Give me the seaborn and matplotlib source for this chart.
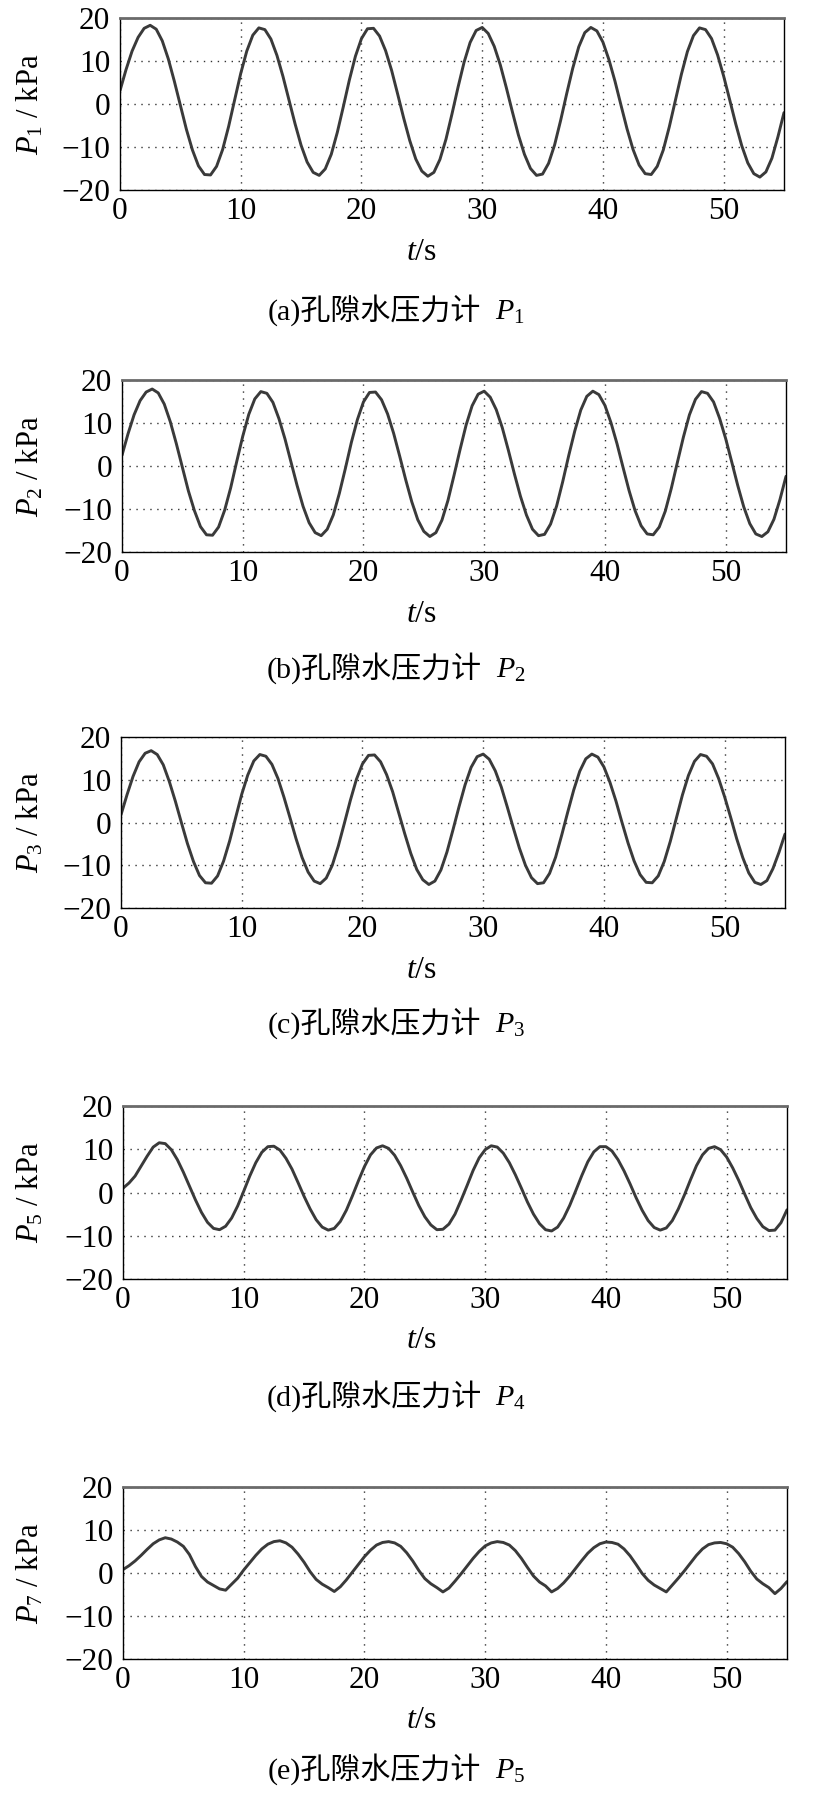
import numpy as np
import pandas as pd
import seaborn as sns
import matplotlib.pyplot as plt
from matplotlib.offsetbox import TextArea, HPacker, AnchoredOffsetbox

# sample instants (s), 0.5 s logger step
t = np.arange(0, 55.5, 0.5)

# pore pressure readings (kPa)
p1 = [3.1, 8.0, 12.3, 15.5, 17.6, 18.3,
      17.4, 14.7, 10.5, 5.3, -0.3, -5.9, -10.7, -14.4, -16.4,
      -16.5, -14.5, -10.6, -5.2, 1.0, 7.1, 12.3, 16.0, 17.7,
      17.3, 15.1, 11.3, 6.4, 0.9, -4.6, -9.6, -13.5, -15.9,
      -16.6, -15.1, -11.7, -6.6, -0.6, 5.6, 11.1, 15.2, 17.5,
      17.6, 15.8, 12.4, 7.8, 2.3, -3.3, -8.5, -12.8, -15.6, -16.8,
      -15.9, -12.9, -8.2, -2.3, 3.9, 9.7, 14.3, 17.1,
      17.8, 16.4, 13.4, 9.1, 3.8, -1.8, -7.2, -11.7, -15.0, -16.6,
      -16.3, -13.8, -9.5, -3.8, 2.4, 8.3, 13.3, 16.6, 17.8,
      17.0, 14.4, 10.3, 5.3, -0.3, -5.8, -10.6, -14.2, -16.2,
      -16.4, -14.5, -10.7, -5.3, 0.8, 6.9, 12.2, 15.9, 17.7,
      17.3, 15.2, 11.4, 6.5, 1.0, -4.6, -9.7, -13.7, -16.2,
      -17.0, -15.8, -12.6, -7.6, -2.0]

p2 = [2.5, 7.5, 11.9, 15.2, 17.2, 17.9,
      17.0, 14.4, 10.3, 5.2, -0.3, -5.8, -10.4, -14.1, -16.0,
      -16.1, -14.2, -10.3, -5.1, 1.0, 6.9, 12.0, 15.6, 17.3,
      16.9, 14.8, 11.0, 6.3, 0.9, -4.5, -9.4, -13.2, -15.5,
      -16.2, -14.7, -11.4, -6.4, -0.6, 5.5, 10.8, 14.9, 17.1,
      17.2, 15.4, 12.1, 7.6, 2.3, -3.2, -8.3, -12.5, -15.2, -16.4,
      -15.5, -12.6, -8.0, -2.2, 3.8, 9.5, 14.0, 16.7,
      17.4, 16.0, 13.1, 8.9, 3.7, -1.8, -7.0, -11.4, -14.7, -16.2,
      -15.9, -13.5, -9.3, -3.7, 2.4, 8.1, 13.0, 16.2, 17.4,
      16.6, 14.1, 10.1, 5.2, -0.3, -5.7, -10.4, -13.9, -15.8,
      -16.0, -14.2, -10.5, -5.2, 0.8, 6.7, 11.9, 15.5, 17.3,
      16.9, 14.9, 11.1, 6.4, 1.0, -4.5, -9.5, -13.4, -15.8,
      -16.4, -15.3, -12.4, -7.8, -2.4]

p3 = [1.8, 6.5, 10.8, 14.2, 16.2, 16.8,
      15.9, 13.5, 9.6, 5.0, 0.0, -4.9, -9.1, -12.4, -14.1,
      -14.2, -12.5, -9.0, -4.3, 1.2, 6.6, 11.1, 14.4, 15.9,
      15.5, 13.6, 10.3, 5.9, 1.1, -3.8, -8.2, -11.6, -13.7,
      -14.3, -13.0, -10.0, -5.5, -0.2, 5.2, 10.1, 13.7, 15.7,
      15.8, 14.2, 11.2, 7.2, 2.3, -2.6, -7.2, -11.0, -13.4, -14.5,
      -13.7, -11.1, -6.9, -1.7, 3.7, 8.8, 12.9, 15.4,
      16.0, 14.8, 12.1, 8.3, 3.6, -1.3, -6.0, -10.0, -12.9, -14.3,
      -14.1, -11.9, -8.1, -3.0, 2.4, 7.6, 12.0, 14.9, 16.0,
      15.3, 13.0, 9.4, 5.0, 0.0, -4.8, -9.0, -12.2, -14.0,
      -14.1, -12.5, -9.1, -4.4, 1.0, 6.4, 11.0, 14.3, 15.9,
      15.5, 13.7, 10.3, 6.0, 1.2, -3.8, -8.2, -11.8, -14.0,
      -14.5, -13.6, -10.8, -7.0, -2.7]

p5 = [1.0, 2.2, 3.8, 6.1, 8.4, 10.5, 11.5,
      11.3, 9.9, 7.6, 4.7, 1.5, -1.7, -4.6, -6.9, -8.3,
      -8.6, -7.8, -5.9, -3.1, 0.3, 3.8, 6.9, 9.3, 10.6,
      10.7, 9.8, 7.9, 5.4, 2.3, -0.9, -3.8, -6.3, -8.0, -8.7,
      -8.3, -6.7, -4.1, -0.8, 2.7, 6.0, 8.7, 10.3,
      10.8, 10.2, 8.6, 6.2, 3.3, 0.1, -3.0, -5.6, -7.5, -8.6,
      -8.5, -7.3, -5.0, -1.8, 1.6, 5.1, 8.0, 9.9, 10.8,
      10.5, 9.1, 6.9, 4.1, 1.0, -2.2, -5.0, -7.2, -8.6,
      -8.9, -8.0, -5.9, -3.0, 0.4, 3.9, 7.1, 9.4, 10.6,
      10.6, 9.6, 7.6, 5.0, 2.0, -1.2, -4.1, -6.5, -8.1, -8.7,
      -8.2, -6.5, -3.8, -0.6, 2.9, 6.2, 8.7, 10.2,
      10.6, 9.9, 8.2, 5.7, 2.8, -0.4, -3.5, -6.0, -7.9, -8.8,
      -8.7, -7.0, -4.0]

p7 = [0.8, 1.7, 2.8, 4.1, 5.5, 6.8, 7.7, 8.2,
      7.9, 7.2, 6.2, 4.3, 1.5, -0.8, -2.1, -2.9, -3.7,
      -4.0, -2.6, -1.2, 0.7, 2.4, 4.1, 5.6, 6.7, 7.3,
      7.5, 7.0, 6.0, 4.4, 2.5, 0.3, -1.5, -2.6, -3.4,
      -4.3, -3.2, -1.6, 0.2, 2.0, 3.8, 5.3, 6.5, 7.1,
      7.3, 7.0, 6.2, 4.7, 2.8, 0.6, -1.3, -2.5, -3.4, -4.4,
      -3.5, -1.9, -0.2, 1.6, 3.4, 5.0, 6.3, 7.0, 7.3,
      7.1, 6.5, 5.2, 3.4, 1.3, -0.7, -2.1, -3.0, -4.4,
      -3.6, -2.3, -0.7, 1.1, 2.9, 4.6, 5.9, 6.8, 7.2,
      7.1, 6.7, 5.6, 4.0, 2.0, -0.1, -1.7, -2.8, -3.6,
      -4.4, -2.8, -1.2, 0.5, 2.3, 4.1, 5.6, 6.6, 7.0,
      7.1, 6.8, 6.0, 4.5, 2.6, 0.4, -1.4, -2.5, -3.4,
      -4.8, -3.6, -2.0]

series = [p1, p2, p3, p5, p7]
letters = ['a', 'b', 'c', 'd', 'e']
gauge_no = ['1', '2', '3', '4', '5']     # gauge number in caption
sensor_no = ['1', '2', '3', '5', '7']    # sensor number on y axis

sns.set_theme(style='white')
plt.rcParams['font.family'] = ['Liberation Serif', 'Noto Sans CJK SC']
plt.rcParams['mathtext.fontset'] = 'custom'
plt.rcParams['mathtext.rm'] = 'Liberation Serif'
plt.rcParams['mathtext.it'] = 'Liberation Serif:italic'
plt.rcParams['axes.unicode_minus'] = True

W, H = 814, 1812
fig = plt.figure(figsize=(W / 100, H / 100), dpi=100)

# axes frames in pixels: left, top, bottom
frames = [(120, 18, 190), (122, 380, 552), (121, 737, 908),
          (123, 1106, 1279), (123, 1487, 1659)]
caption_y = [310, 668, 1023, 1396, 1769]
axw = 664

for i, (left, top, bottom) in enumerate(frames):
    ax = fig.add_axes([left / W, 1 - bottom / H, axw / W, (bottom - top) / H])
    df = pd.DataFrame({'t': t, 'p': series[i]})
    sns.lineplot(data=df, x='t', y='p', ax=ax, color='#3a3a3a',
                 linewidth=2.1, estimator=None, sort=False)

    ax.set_xlim(0, 55)
    ax.set_ylim(-20, 20)
    ax.set_xticks(range(0, 51, 10))
    ax.set_yticks(range(-20, 21, 10))
    ax.grid(True, color='#333333', linestyle=(0, (1, 4)), linewidth=1.0)
    ax.tick_params(axis='both', length=0, labelsize=22.5, colors='black')
    ax.tick_params(axis='x', pad=5)
    ax.tick_params(axis='y', pad=7)

    ax.set_xlabel(r'$t$/s', fontsize=23, color='black')
    ax.xaxis.set_label_coords((422 - left) / axw, -62 / (bottom - top))
    ax.xaxis.label.set_va('center')
    ax.set_ylabel(rf'$P_{sensor_no[i]}$ / kPa', fontsize=22, color='black')
    ax.yaxis.set_label_coords((30 - left) / axw, 0.5)
    ax.yaxis.label.set_va('center')

    for s in ax.spines.values():
        s.set_color('black')
        s.set_linewidth(1.0)
    if i != 2:
        ax.spines['top'].set_color('#6a6a6a')
        ax.spines['top'].set_linewidth(2.0)

    # caption: "(a)孔隙水压力计 P1"
    ta1 = TextArea(f'({letters[i]})孔隙水压力计',
                   textprops=dict(fontsize=21.6, color='black',
                                  family=['Liberation Serif', 'Noto Sans CJK SC']))
    ta2 = TextArea(rf'$P_{gauge_no[i]}$',
                   textprops=dict(fontsize=21.6, color='black'))
    box = HPacker(children=[ta1, ta2], align='baseline', pad=0, sep=10)
    anchored = AnchoredOffsetbox(loc='center', child=box,
                                 bbox_to_anchor=(396 / W, 1 - caption_y[i] / H),
                                 bbox_transform=fig.transFigure,
                                 frameon=False, pad=0, borderpad=0)
    fig.add_artist(anchored)

fig.savefig('out.png', dpi=100)
